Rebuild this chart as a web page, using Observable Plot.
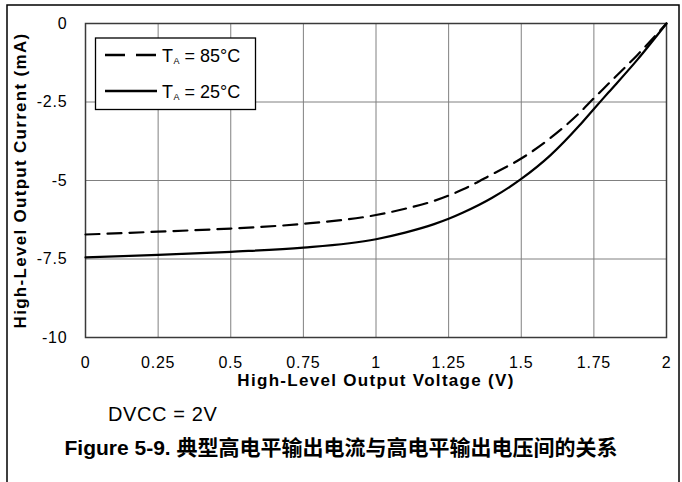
<!DOCTYPE html>
<html>
<head>
<meta charset="utf-8">
<script src="https://cdn.jsdelivr.net/npm/d3@7"></script>
<script src="https://cdn.jsdelivr.net/npm/@observablehq/plot@0.6"></script>
<style>
  html, body { margin: 0; padding: 0; background: #fff; }
  #wrap { position: relative; width: 682px; height: 482px; overflow: hidden; font-family: "Liberation Sans", Arial, sans-serif; }
  #wrap svg { position: absolute; left: 0; top: 0; }
  #chart svg text { font-family: "Liberation Sans", Arial, sans-serif; }
</style>
</head>
<body>
<div id="wrap"><div id="chart"></div></div>
<script>
// ---- data ----
const volts = [0, 0.25, 0.5, 0.75, 1, 1.1, 1.2, 1.25, 1.3, 1.4, 1.5, 1.6, 1.7, 1.75, 1.8, 1.9, 2];
const current25 = [-7.45, -7.37, -7.27, -7.14, -6.87, -6.66, -6.39, -6.22, -6.02, -5.55, -4.95, -4.2, -3.25, -2.72, -2.2, -1.15, 0];
const current85 = [-6.72, -6.63, -6.53, -6.38, -6.1, -5.9, -5.65, -5.48, -5.28, -4.8, -4.3, -3.65, -2.85, -2.38, -1.92, -1.0, 0];
const xTicks = [0, 0.25, 0.5, 0.75, 1, 1.25, 1.5, 1.75, 2];
const yTicks = [0, -2.5, -5, -7.5, -10];
const seriesNames = ["T_A = 85°C", "T_A = 25°C"];
const xTitle = "High-Level Output Voltage (V)";
const yTitle = "High-Level Output Current (mA)";
const noteText = "DVCC = 2V";
const captionText = "Figure 5-9. 典型高电平输出电流与高电平输出电压间的关系";

const rows25 = volts.map((v, i) => ({v, c: current25[i]}));
const rows85 = volts.map((v, i) => ({v, c: current85[i]}));

const plot = Plot.plot({
  width: 682,
  height: 400,
  marginLeft: 85,
  marginRight: 16,
  marginTop: 23,
  marginBottom: 63,
  style: {background: "transparent", fontFamily: "Liberation Sans, Arial, sans-serif", color: "#000"},
  x: {domain: [0, 2]},
  y: {domain: [-10, 0]},
  marks: [
    Plot.gridX(xTicks, {stroke: "#808080", strokeOpacity: 1, strokeWidth: 1}),
    Plot.gridY(yTicks, {stroke: "#808080", strokeOpacity: 1, strokeWidth: 1}),
    Plot.frame({stroke: "#3a3a3a", strokeWidth: 1.5}),
    Plot.line(rows85, {x: "v", y: "c", stroke: "#000", strokeWidth: 2.2, strokeDasharray: "14,8", curve: "monotone-x"}),
    Plot.line(rows25, {x: "v", y: "c", stroke: "#000", strokeWidth: 2.2, curve: "monotone-x"}),
    Plot.axisX(xTicks, {tickSize: 0, tickPadding: 19, fontSize: 16, tickFormat: d => String(d), label: null, fill: "#000"}),
    Plot.axisY(yTicks, {tickSize: 0, tickPadding: 18, fontSize: 16, tickFormat: d => String(d), label: null, fill: "#000"}),
    Plot.text([xTitle], {text: d => d, frameAnchor: "bottom", textAnchor: "middle", dy: 48, fontSize: 17, fontWeight: "bold", fill: "#000"}),
    Plot.text([yTitle], {text: d => d, frameAnchor: "left", textAnchor: "middle", dx: -65, rotate: -90, fontSize: 17, fontWeight: "bold", fill: "#000"})
  ]
});
document.getElementById("chart").appendChild(plot);
d3.select(plot).selectAll('g[aria-label="x-axis tick label"] text, g[aria-label="y-axis tick label"] text').attr("letter-spacing", "0.8px");
d3.select(plot).selectAll('g[aria-label="text"] text').attr("letter-spacing", "1.3px");

// ---- overlay: figure frame, legend, note, caption ----
const ns = "http://www.w3.org/2000/svg";
const ov = d3.select("#wrap").append("svg").attr("xmlns", ns).attr("width", 682).attr("height", 482);
ov.append("rect").attr("x", 7).attr("y", 5).attr("width", 672).attr("height", 520)
  .attr("fill", "none").attr("stroke", "#000").attr("stroke-width", 1.5);

const lg = ov.append("g");
lg.append("rect").attr("x", 95.5).attr("y", 38).attr("width", 160).attr("height", 71.5)
  .attr("fill", "#fff").attr("stroke", "#000").attr("stroke-width", 1.3);
const entries = [
  {name: seriesNames[0], dash: "20,11", y: 55},
  {name: seriesNames[1], dash: null, y: 91}
];
entries.forEach(e => {
  const ln = lg.append("line").attr("x1", 105).attr("x2", 157).attr("y1", e.y).attr("y2", e.y)
    .attr("stroke", "#000").attr("stroke-width", 2.4);
  if (e.dash) ln.attr("stroke-dasharray", e.dash);
  const [pre, rest] = e.name.split("_");
  const sub = rest.slice(0, 1), tail = rest.slice(1);
  const t = lg.append("text").attr("x", 162).attr("y", e.y + 6.5)
    .attr("font-family", "Liberation Sans, Arial, sans-serif").attr("font-size", 18).attr("fill", "#000");
  t.append("tspan").text(pre);
  t.append("tspan").attr("font-size", 9).attr("dy", 2.5).attr("dx", 0.5).text(sub);
  t.append("tspan").attr("dy", -2.5).text(tail);
});

ov.append("text").attr("x", 108).attr("y", 420.5)
  .attr("font-family", "Liberation Sans, Arial, sans-serif").attr("font-size", 20)
  .attr("letter-spacing", "0.6px").attr("fill", "#000").text(noteText);

ov.append("text").attr("x", 341).attr("y", 455).attr("text-anchor", "middle")
  .attr("font-family", "Liberation Sans, 'Noto Sans CJK SC', Arial, sans-serif").attr("font-size", 21)
  .attr("font-weight", "bold").attr("fill", "#000").text(captionText);
</script>
</body>
</html>
